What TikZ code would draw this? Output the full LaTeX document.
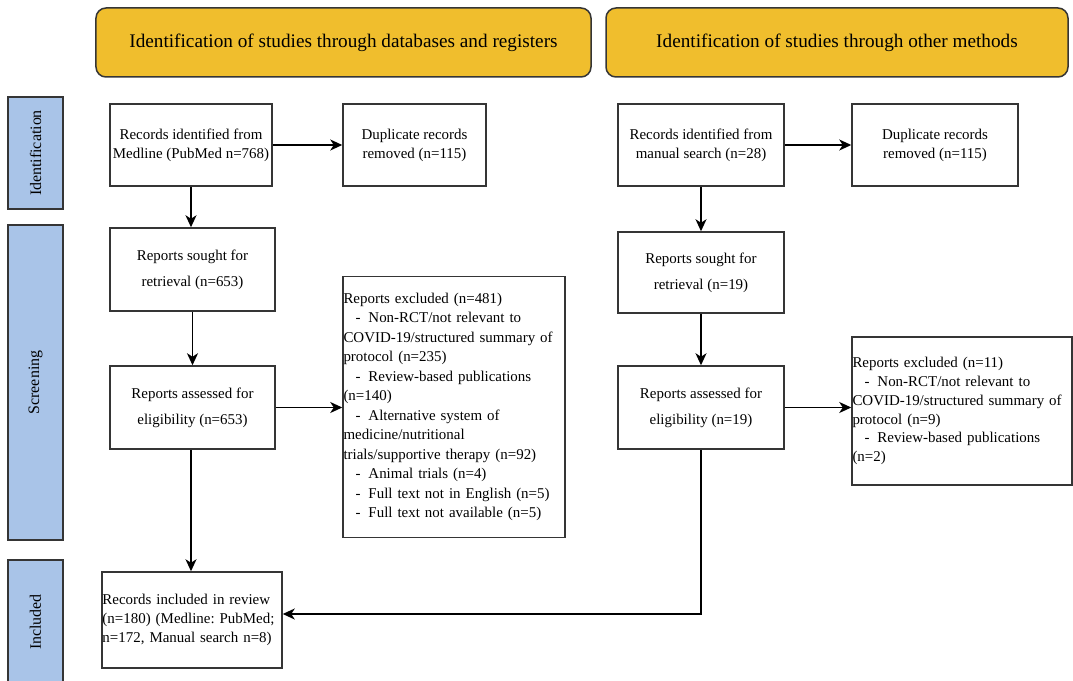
\documentclass[tikz,border=0pt]{standalone}
\usepackage{fontspec}
\setmainfont{Liberation Serif}
\usepackage{xcolor}
\usetikzlibrary{arrows.meta}

\definecolor{headgold}{HTML}{F0BE2D}
\definecolor{phaseblue}{HTML}{A9C4E8}
\definecolor{edgegray}{HTML}{353535}

\newcommand{\exitem}{\hspace*{12bp}-\hspace{8bp}}

\tikzset{
    box/.style={draw=edgegray, line width=1.5bp, fill=white, align=center, inner sep=0pt, font=\fontsize{15}{19}\selectfont\frenchspacing},
    widebox/.style={box, font=\fontsize{15}{26}\selectfont},
    listbox/.style={box, align=left, inner xsep=0.5bp},
    head/.style={draw=edgegray, line width=1.5bp, fill=headgold, rounded corners=10bp, minimum height=69bp, font=\fontsize{19.3}{22}\selectfont},
    phase/.style={draw=edgegray, line width=1.5bp, fill=phaseblue, minimum width=55bp, font=\fontsize{16}{18}\selectfont},
    arr/.style={-{Stealth[length=12bp,width=11bp,inset=3.5bp]}, line width=1.5bp, black}
}

\begin{document}
\begin{tikzpicture}[x=1bp, y=-1bp]
    \useasboundingbox (0,0) rectangle (1073,681);

    % Headers
    \node[head, minimum width=495bp] (headdb) at (343.5,42.5) {Identification of studies through databases and registers};
    \node[head, minimum width=462bp] (headoth) at (837,42.5) {Identification of studies through other methods};

    % Phases
    \node[phase, minimum height=112bp] (phid) at (35.5,153) {\rotatebox{90}{Identification}};
    \node[phase, minimum height=315bp] (phsc) at (35.5,382.5) {\rotatebox{90}{Screening}};
    \node[phase, minimum height=124bp] (phin) at (35.5,622) {\rotatebox{90}{Included}};

    % Databases
    \node[box, minimum width=162bp, minimum height=82bp] (recdb) at (191,145) {Records identified from\\Medline (PubMed n=768)};
    \node[box, minimum width=143bp, minimum height=82bp] (dupdb) at (414.5,145) {Duplicate records\\removed (n=115)};
    \node[widebox, minimum width=165bp, minimum height=83bp] (soughtdb) at (192.5,269.5) {Reports sought for\\retrieval (n=653)};
    \node[widebox, minimum width=165bp, minimum height=83bp] (assessdb) at (192.5,407.5) {Reports assessed for\\eligibility (n=653)};
    \node[listbox, text width=221bp, minimum height=261bp, font=\fontsize{15}{19.6}\selectfont] (excldb) at (454,407) {Reports excluded (n=481)\\
        \exitem Non-RCT/not relevant to\\
        COVID-19/structured summary of\\
        protocol (n=235)\\
        \exitem Review-based publications\\
        (n=140)\\
        \exitem Alternative system of\\
        medicine/nutritional\\
        trials/supportive therapy (n=92)\\
        \exitem Animal trials (n=4)\\
        \exitem Full text not in English (n=5)\\
        \exitem Full text not available (n=5)};
    \node[listbox, text width=179bp, minimum height=96bp] (incl) at (192,620) {Records included in review\\(n=180) (Medline: PubMed;\\n=172, Manual search n=8)};

    % Other methods
    \node[box, minimum width=166bp, minimum height=82bp] (recman) at (701,145) {Records identified from\\manual search (n=28)};
    \node[box, minimum width=166bp, minimum height=82bp] (dupman) at (935,145) {Duplicate records\\removed (n=115)};
    \node[widebox, minimum width=166bp, minimum height=81bp] (soughtman) at (701,272.5) {Reports sought for\\retrieval (n=19)};
    \node[widebox, minimum width=166bp, minimum height=83bp] (assessman) at (701,407.5) {Reports assessed for\\eligibility (n=19)};
    \node[listbox, text width=219bp, minimum height=148bp] (exclman) at (962,411) {Reports excluded (n=11)\\
        \exitem Non-RCT/not relevant to\\
        COVID-19/structured summary of\\
        protocol (n=9)\\
        \exitem Review-based publications\\
        (n=2)};

    % Arrows
    \draw[arr] (recdb) -- (dupdb);
    \draw[arr] (recdb.south) -- (recdb.south |- soughtdb.north);
    \draw[arr] (soughtdb) -- (assessdb);
    \draw[arr] (assessdb.east) -- (assessdb.east -| excldb.west);
    \draw[arr] (assessdb.south -| recdb.south) -- (recdb.south |- incl.north);
    \draw[arr] (recman) -- (dupman);
    \draw[arr] (recman) -- (soughtman);
    \draw[arr] (soughtman) -- (assessman);
    \draw[arr] (assessman.east) -- (assessman.east -| exclman.west);
    \draw[arr] (assessman.south) |- ([yshift=6bp]incl.east);

\end{tikzpicture}
\end{document}
